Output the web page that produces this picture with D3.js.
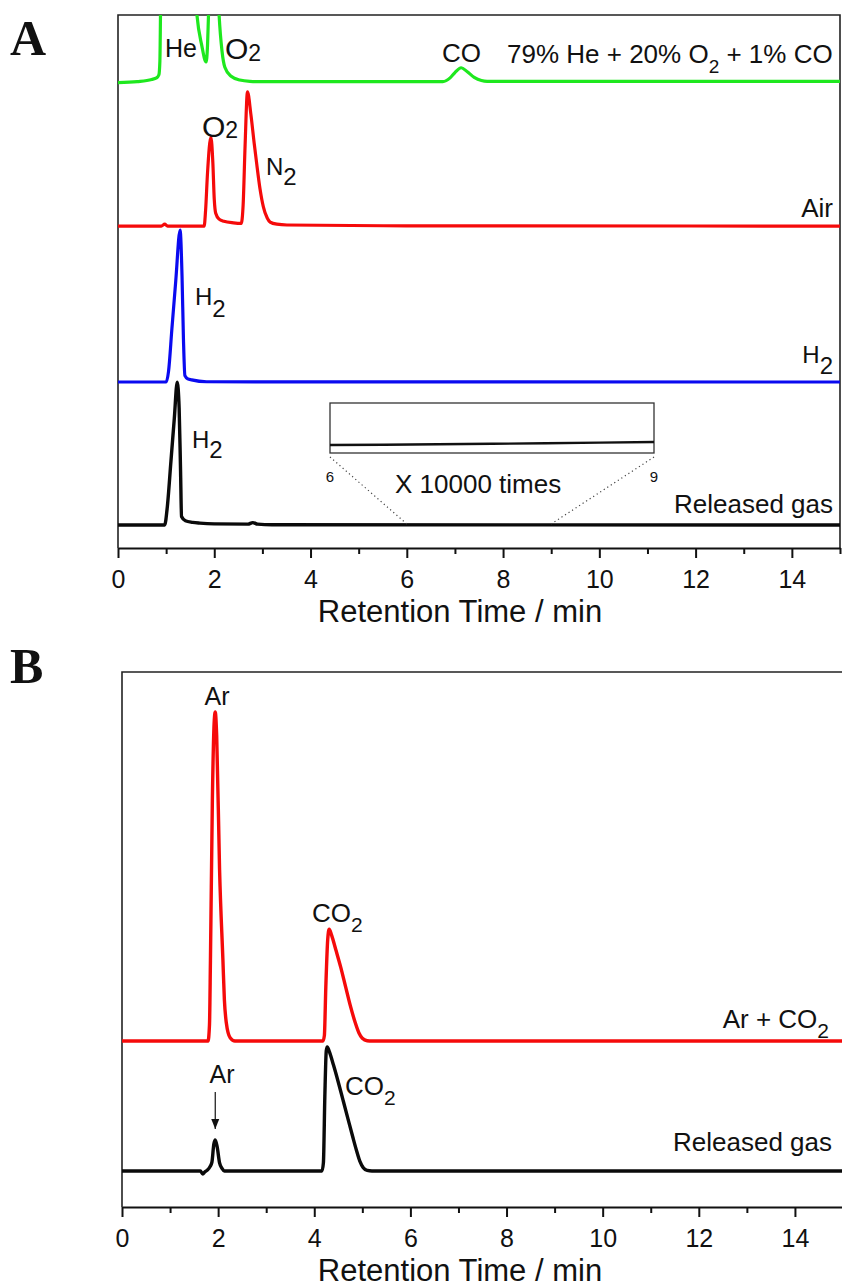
<!DOCTYPE html>
<html>
<head>
<meta charset="utf-8">
<script src="https://cdn.jsdelivr.net/npm/d3@7"></script>
<style>
  html, body { margin: 0; padding: 0; background: #fff; }
  svg { display: block; }
  text { font-family: "Liberation Sans", Arial, sans-serif; fill: #111; }
  .tick text { font-family: "Liberation Sans Narrow", "Arial Narrow", "Liberation Sans", sans-serif; }
</style>
</head>
<body>
<svg id="chart" width="842" height="1288"></svg>
<script>
// ---------------- DATA ----------------
const majorTicks = [0, 2, 4, 6, 8, 10, 12, 14];
const minorTicks = [1, 3, 5, 7, 9, 11, 13, 15];
const xDomain = [0, 15];

// Panel A: trace offsets (signal units) and traces [time (min), signal above own baseline]
const offsetsA = [87.3, 60.4, 31.14, 4.32];   // green, red, blue, black
const greenMix = [[0,0],[0.4,0.2],[0.7,0.6],[0.8,0.9],[0.85,1.5],[0.87,4],[0.9,25],[1.2,45],[1.55,25],
  [1.64,12.7],[1.74,7],[1.83,3.9],[1.86,7],[1.88,12.7],[1.95,30],[2.02,30],[2.10,12.7],[2.16,6],
  [2.22,2.9],[2.35,1.2],[2.53,0.5],[2.74,0.25],[2.95,0.2],[6.75,0.2],[6.9,0.9],[7.0,1.9],[7.13,2.8],
  [7.25,2.1],[7.4,1.0],[7.55,0.4],[7.67,0.25],[15,0.25]];
const redAir = [[0,0],[0.9,0],[0.97,0.35],[1.03,0],[1.79,0],[1.82,3],[1.86,10],[1.93,16.7],[1.97,12],
  [2.0,5],[2.03,2.4],[2.1,1.3],[2.2,0.9],[2.4,0.6],[2.56,0.5],[2.6,4],[2.64,15],[2.69,25.2],[2.76,21],
  [2.83,15.5],[2.88,11.8],[2.95,7],[3.02,3.6],[3.1,1.5],[3.16,0.75],[3.3,0.35],[3.51,0.2],[6,0.05],[15,0]];
const blueH2 = [[0,0],[1.0,0],[1.05,2],[1.12,10],[1.2,19],[1.29,28.5],[1.33,20],[1.36,8],[1.39,1.2],
  [1.45,0.6],[1.53,0.4],[1.84,0.05],[15,0]];
const blackGasA = [[0,0],[0.97,0],[1.02,3],[1.1,12],[1.17,20],[1.23,26.8],[1.27,22],[1.3,10],[1.32,1.6],
  [1.4,0.8],[1.55,0.5],[1.7,0.35],[2.0,0.2],[2.7,0.15],[2.8,0.45],[2.9,0.15],[3.2,0.05],[15,0]];
// Inset (x 10000) of released gas between 6 and 9 min
const insetX = [6, 9];
const insetGas = [[6,0.8],[6.5,0.83],[7,0.87],[7.5,0.92],[8,0.98],[8.5,1.04],[9,1.1]];

// Panel B
const offsetsB = [31.03, 6.73];   // red, black
const redArCO2 = [[0,0],[1.79,0],[1.82,3],[1.84,15],[1.88,45],[1.92,60],[1.94,61.5],[1.97,57],[2.03,32],
  [2.1,15],[2.13,7.7],[2.17,3.4],[2.25,0.6],[2.35,0],[4.18,0],[4.21,1],[4.24,10],[4.28,19],[4.31,20.9],
  [4.36,19.8],[4.45,17],[4.55,13.8],[4.65,10.2],[4.75,6.6],[4.85,3.5],[4.93,1.5],[5.0,0.5],[5.1,0.05],[5.2,0],[15,0]];
const blackGasB = [[0,0],[1.55,0],[1.63,0],[1.68,-0.55],[1.72,-0.2],[1.78,0.2],[1.83,0.8],[1.87,1.6],
  [1.91,5],[1.94,5.8],[1.98,4.5],[2.03,1.5],[2.08,0.5],[2.13,0],[4.16,0],[4.19,1.5],[4.22,14],[4.25,22.5],
  [4.27,23.2],[4.31,22.4],[4.4,19.8],[4.5,16.6],[4.6,13.2],[4.7,9.8],[4.8,6.4],[4.88,3.8],[4.95,1.8],
  [5.02,0.6],[5.1,0.1],[5.2,0],[15,0]];

// ---------------- DRAW ----------------
const svg = d3.select("#chart");
const colors = { green: "#1ee81e", red: "#f50a0a", blue: "#0a0af0", black: "#0a0a0a" };

function label(g, x, y, parts, opts) {
  const t = g.append("text").attr("x", x).attr("y", y)
    .attr("text-anchor", opts && opts.anchor ? opts.anchor : "start");
  let prevDy = 0;
  parts.forEach(p => {
    const dy = p[2] || 0;
    t.append("tspan").attr("font-size", p[1]).attr("dy", dy - prevDy).text(p[0]);
    prevDy = dy;
  });
  return t;
}

function panel(opts) {
  const g = svg.append("g");
  const x = d3.scaleLinear().domain(xDomain).range([opts.left, opts.right]);
  const y = d3.scaleLinear().domain([0, 100]).range([opts.bottom, opts.top]);
  const clipId = "clip" + opts.id;
  svg.append("clipPath").attr("id", clipId).append("rect")
    .attr("x", opts.left).attr("y", opts.top)
    .attr("width", opts.right - opts.left).attr("height", opts.bottom - opts.top);

  g.append("path")
    .attr("d", d3.line()([[x(0), y(0)], [x(0), y(100)], [x(15), y(100)], [x(15), y(0)]]))
    .attr("fill", "none").attr("stroke", "#222").attr("stroke-width", 1.6);

  const axMinor = d3.axisBottom(x).tickValues(minorTicks).tickSize(6).tickSizeOuter(0).tickFormat("");
  const axMajor = d3.axisBottom(x).tickValues(majorTicks).tickSize(10).tickSizeOuter(0)
    .tickPadding(6).tickFormat(d3.format("d"));
  const gm = g.append("g").attr("transform", `translate(0,${opts.bottom})`).call(axMinor);
  gm.select(".domain").remove();
  gm.selectAll("line").attr("stroke", "#111").attr("stroke-width", 2);
  const ga = g.append("g").attr("transform", `translate(0,${opts.bottom})`).call(axMajor);
  ga.select(".domain").attr("stroke", "#111").attr("stroke-width", 2.2);
  ga.selectAll("line").attr("stroke", "#111").attr("stroke-width", 2);
  ga.selectAll("text").attr("font-size", 25).attr("fill", "#111").attr("dy", "0.95em");

  g.append("text").attr("x", 460).attr("y", opts.bottom + 74).attr("text-anchor", "middle")
    .attr("font-size", 31).text("Retention Time / min");

  const traces = g.append("g").attr("clip-path", `url(#${clipId})`);
  function trace(data, offset, color, w) {
    traces.append("path").datum(data)
      .attr("d", d3.line().x(d => x(d[0])).y(d => y(d[1] + offset)).curve(d3.curveMonotoneX))
      .attr("fill", "none").attr("stroke", color).attr("stroke-width", w)
      .attr("stroke-linejoin", "round").attr("stroke-linecap", "round");
  }
  return { g, x, y, trace };
}

// ---- Panel A ----
const A = panel({ id: "A", left: 118, right: 840, top: 15, bottom: 548 });
A.trace(greenMix, offsetsA[0], colors.green, 3.2);
A.trace(redAir, offsetsA[1], colors.red, 3.2);
A.trace(blueH2, offsetsA[2], colors.blue, 3.2);
A.trace(blackGasA, offsetsA[3], colors.black, 3.4);

// Inset
const xi = d3.scaleLinear().domain(insetX).range([330, 654]);
const yi = d3.scaleLinear().domain([0, 5]).range([453, 403]);
A.g.append("rect").attr("x", xi(6)).attr("y", yi(5)).attr("width", xi(9) - xi(6)).attr("height", yi(0) - yi(5))
  .attr("fill", "none").attr("stroke", "#333").attr("stroke-width", 1.3);
A.g.append("path").datum(insetGas)
  .attr("d", d3.line().x(d => xi(d[0])).y(d => yi(d[1])))
  .attr("fill", "none").attr("stroke", "#111").attr("stroke-width", 2.4);
[6, 9].forEach(v => {
  A.g.append("line")
    .attr("x1", xi(v)).attr("y1", yi(-0.4))
    .attr("x2", A.x(v)).attr("y2", A.y(offsetsA[3]) - 1)
    .attr("stroke", "#444").attr("stroke-width", 1.2).attr("stroke-dasharray", "1.2,3");
  A.g.append("text").attr("x", xi(v)).attr("y", 482).attr("text-anchor", "middle")
    .attr("font-size", 15).text(String(v));
});
label(A.g, 395, 493, [["X 10000 times", 26]]);

// Panel A labels
label(A.g, 165, 57, [["He", 25]]);
label(A.g, 225, 59, [["O", 30], ["2", 23, 2]]);
label(A.g, 442, 62, [["CO", 26]]);
label(A.g, 507, 63, [["79% He + 20% O", 26], ["2", 19, 10], [" + 1% CO", 26, 0]]);
label(A.g, 202, 137, [["O", 30], ["2", 23, 1]]);
label(A.g, 266, 175, [["N", 24], ["2", 24, 10]]);
label(A.g, 833, 217, [["Air", 26]], { anchor: "end" });
label(A.g, 195, 305, [["H", 24], ["2", 24, 12]]);
label(A.g, 833, 363, [["H", 24], ["2", 24, 11]], { anchor: "end" });
label(A.g, 192, 448, [["H", 24], ["2", 24, 10]]);
label(A.g, 833, 513, [["Released gas", 26]], { anchor: "end" });

// ---- Panel B ----
const B = panel({ id: "B", left: 122, right: 843, top: 672, bottom: 1207 });
B.trace(redArCO2, offsetsB[0], colors.red, 3.4);
B.trace(blackGasB, offsetsB[1], colors.black, 3.4);

label(B.g, 217, 705, [["Ar", 25]], { anchor: "middle" });
label(B.g, 312, 922, [["CO", 26], ["2", 21, 10]]);
label(B.g, 829, 1028, [["Ar + CO", 26], ["2", 21, 10]], { anchor: "end" });
label(B.g, 222, 1083, [["Ar", 25]], { anchor: "middle" });
label(B.g, 345, 1095, [["CO", 26], ["2", 21, 10]]);
label(B.g, 832, 1151, [["Released gas", 26]], { anchor: "end" });

svg.append("defs").append("marker").attr("id", "arr").attr("viewBox", "0 0 10 10")
  .attr("refX", 10).attr("refY", 5).attr("markerWidth", 10).attr("markerHeight", 10)
  .attr("markerUnits", "userSpaceOnUse").attr("orient", "auto")
  .append("path").attr("d", "M0,1 L10,5 L0,9 Z").attr("fill", "#111");
B.g.append("line").attr("x1", B.x(1.94)).attr("x2", B.x(1.94))
  .attr("y1", 1092).attr("y2", 1129)
  .attr("stroke", "#111").attr("stroke-width", 1.2).attr("marker-end", "url(#arr)");

svg.append("text").attr("x", 10).attr("y", 55).attr("font-size", 50).attr("font-weight", "bold")
  .style("font-family", "'Liberation Serif', 'Times New Roman', serif").text("A");
svg.append("text").attr("x", 10).attr("y", 683).attr("font-size", 50).attr("font-weight", "bold")
  .style("font-family", "'Liberation Serif', 'Times New Roman', serif").text("B");
</script>
</body>
</html>
